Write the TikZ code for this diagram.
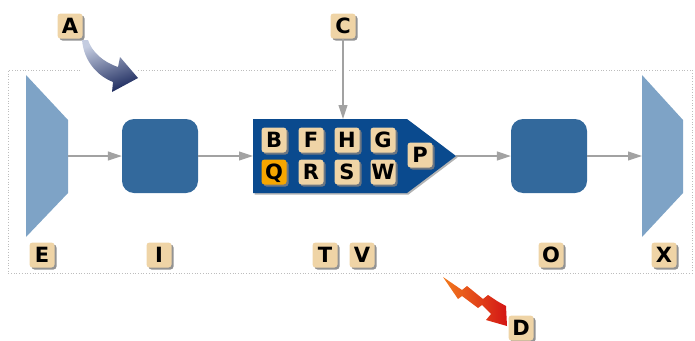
\documentclass[tikz,border=0pt]{standalone}
\usepackage{fontspec}
\usepackage{tikz}
\usetikzlibrary{arrows.meta,shadows}
\newfontfamily\tilefont{DejaVu Sans}
\definecolor{tilebg}{HTML}{EFD4A6}
\definecolor{tilehot}{HTML}{F6A600}
\definecolor{trapblue}{HTML}{7EA3C6}
\definecolor{boxblue}{HTML}{33699C}
\definecolor{sigblue}{HTML}{0A4A8E}
\definecolor{flowgray}{HTML}{A2A2A2}
\definecolor{framegray}{HTML}{BDBDBD}
\definecolor{navylight}{HTML}{C4CCE0}
\definecolor{navydark}{HTML}{1C2A5E}
\definecolor{boltorange}{HTML}{F27A1E}
\definecolor{boltred}{HTML}{D31515}

\begin{document}
\begin{tikzpicture}[x=1pt, y=-1pt,
	tile/.style={rounded corners=3pt, fill=tilebg, minimum size=25pt, inner sep=0pt,
		text height=15pt, text depth=0pt,
		font={\tilefont\bfseries\fontsize{21pt}{21pt}\selectfont},
		drop shadow={shadow xshift=2pt, shadow yshift=-2pt, opacity=0.85}},
	block/.style={fill=boxblue, rounded corners=12pt, minimum width=76pt, minimum height=74pt, inner sep=0pt},
	flow/.style={-{Triangle[length=14pt, width=9pt]}, draw=flowgray, line width=1.1pt}]
	
	\useasboundingbox (0,0) rectangle (695,340);
	
	% dotted frame
	\draw[framegray, dotted, line width=0.7pt] (80,70) -- (8,70) -- (8,273) -- (692,273) -- (692,70) -- (349,70);
	\draw[framegray, dotted, line width=0.7pt] (138,70) -- (337,70);
	
	% end plates
	\fill[trapblue] (26,75) -- (68,120) -- (68,193) -- (26,237) -- cycle;
	\fill[trapblue] (642,75) -- (683,120) -- (683,193) -- (642,237) -- cycle;
	\coordinate (Eout) at (68,156);
	\coordinate (Xin) at (642,156);
	
	% blocks
	\node[block] (I) at (160,156) {};
	\node[block] (O) at (549,156) {};
	
	% pointer block
	\fill[sigblue, drop shadow={shadow xshift=1.5pt, shadow yshift=-1.5pt, opacity=0.6}]
		(253,119) -- (407,119) -- (456,156) -- (407,193) -- (253,193) -- cycle;
	\coordinate (Tin) at (253,156);
	\coordinate (Tout) at (456,156);
	\coordinate (Ttop) at (343,119);
	
	\node[tile] (b) at (274,140) {B};
	\node[tile] (f) at (311,140) {F};
	\node[tile] (h) at (347,140) {H};
	\node[tile] (g) at (383,140) {G};
	\node[tile, fill=tilehot] (q) at (274,172) {Q};
	\node[tile] (r) at (311,172) {R};
	\node[tile] (s) at (347,172) {S};
	\node[tile] (w) at (383,172) {W};
	\node[tile] (p) at (420,155) {P};
	
	% labels
	\node[tile] (a) at (70,26)   {A};
	\node[tile] (c) at (343,26)  {C};
	\node[tile] (d) at (521,328) {D};
	\node[tile] (e) at (42,255)  {E};
	\node[tile] (i) at (159,255) {I};
	\node[tile] (t) at (325,255) {T};
	\node[tile] (v) at (362,255) {V};
	\node[tile] (o) at (551,255) {O};
	\node[tile] (x) at (664,255) {X};
	
	% flow
	\draw[flow] (Eout) -- (I);
	\draw[flow] (I) -- (Tin);
	\draw[flow] (Tout) -- (O);
	\draw[flow] (O) -- (Xin);
	\draw[flow] (c) -- (Ttop);
	
	% curved arrow
	\shade[top color=navylight, middle color=navydark, bottom color=navydark, shading angle=20]
		(82,40) .. controls (84,62) and (98,76) .. (113,82) -- (112,92) -- (138,78)
		-- (120,57) -- (118,67) .. controls (103,62) and (92,52) .. (88,40) -- cycle;
	
	% bolt
	\shade[left color=boltorange, right color=boltred]
		(443,277) -- (462,290) -- (467,286) -- (483,299) -- (488,295) -- (497,301)
		-- (506,306) -- (507,326) -- (486,320) -- (491,314) -- (482,305) -- (478,308)
		-- (462,296) -- (458,299) -- cycle;
	
\end{tikzpicture}
\end{document}
